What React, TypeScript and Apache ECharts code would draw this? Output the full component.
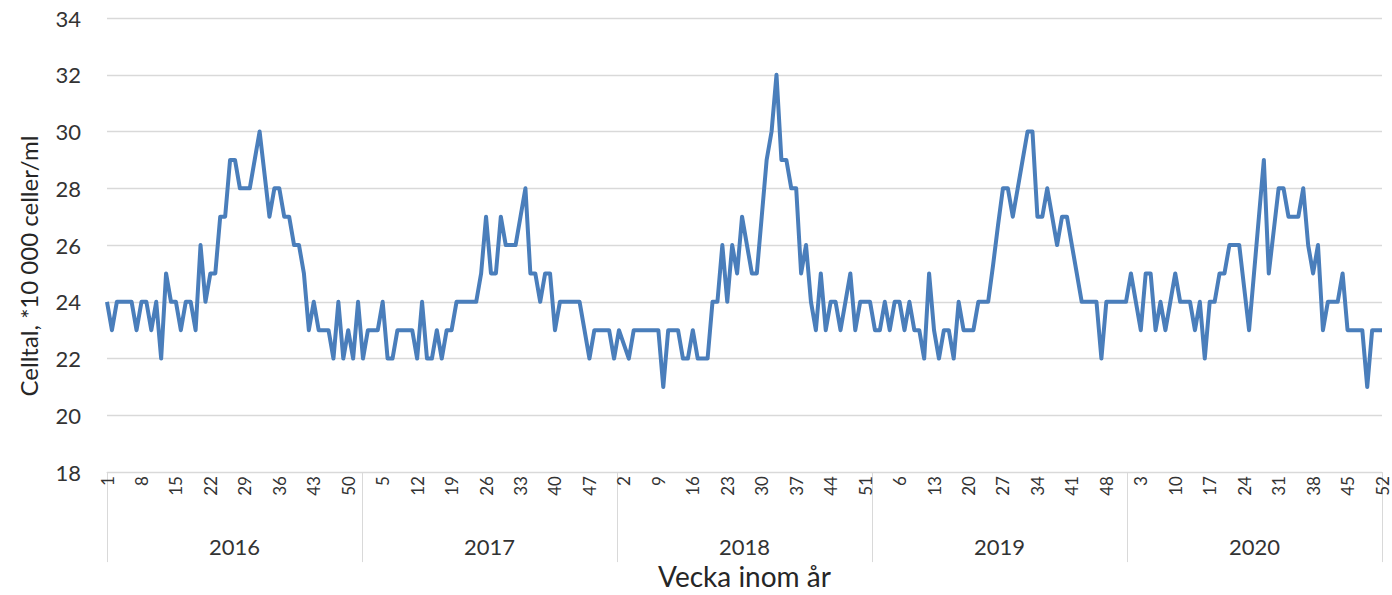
import React, { useEffect, useRef } from "react";
import * as echarts from "echarts";

const years = ["2016", "2017", "2018", "2019", "2020"];
const weeks = Array.from({ length: 52 }, (_, i) => String(i + 1));

const cells2016 = [24, 23, 24, 24, 24, 24, 23, 24, 24, 23, 24, 22, 25, 24, 24, 23, 24, 24, 23, 26, 24, 25, 25, 27, 27, 29, 29, 28, 28, 28, 29, 30, 28.5, 27, 28, 28, 27, 27, 26, 26, 25, 23, 24, 23, 23, 23, 22, 24, 22, 23, 22, 24];
const cells2017 = [22, 23, 23, 23, 24, 22, 22, 23, 23, 23, 23, 22, 24, 22, 22, 23, 22, 23, 23, 24, 24, 24, 24, 24, 25, 27, 25, 25, 27, 26, 26, 26, 27, 28, 25, 25, 24, 25, 25, 23, 24, 24, 24, 24, 24, 23, 22, 23, 23, 23, 23, 22];
const cells2018 = [23, 22.5, 22, 23, 23, 23, 23, 23, 23, 21, 23, 23, 23, 22, 22, 23, 22, 22, 22, 24, 24, 26, 24, 26, 25, 27, 26, 25, 25, 27, 29, 30, 32, 29, 29, 28, 28, 25, 26, 24, 23, 25, 23, 24, 24, 23, 24, 25, 23, 24, 24, 24];
const cells2019 = [23, 23, 24, 23, 24, 24, 23, 24, 23, 23, 22, 25, 23, 22, 23, 23, 22, 24, 23, 23, 23, 24, 24, 24, 25.3, 26.7, 28, 28, 27, 28, 29, 30, 30, 27, 27, 28, 27, 26, 27, 27, 26, 25, 24, 24, 24, 24, 22, 24, 24, 24, 24, 24];
const cells2020 = [25, 24, 23, 25, 25, 23, 24, 23, 24, 25, 24, 24, 24, 23, 24, 22, 24, 24, 25, 25, 26, 26, 26, 24.5, 23, 25, 27, 29, 25, 26.5, 28, 28, 27, 27, 27, 28, 26, 25, 26, 23, 24, 24, 24, 25, 23, 23, 23, 23, 21, 23, 23, 23];

const yTicks = { min: 18, max: 34, interval: 2 };
const yTitle = "Celltal, *10 000 celler/ml";
const xTitle = "Vecka inom år";

const FONT = "Lato, 'Open Sans', sans-serif";

export default function App() {
  const ref = useRef<HTMLDivElement>(null);

  useEffect(() => {
    if (!ref.current) return;
    const chart = echarts.init(ref.current, undefined, { renderer: "svg" });
    const allValues = [cells2016, cells2017, cells2018, cells2019, cells2020].flat();
    const categories: string[] = [];
    years.forEach((y) => weeks.forEach((w) => categories.push(y + "-" + w)));

    chart.setOption({
      animation: false,
      textStyle: { fontFamily: FONT },
      grid: { left: 107, right: 10, top: 18, bottom: 120, containLabel: false },
      xAxis: [
        {
          type: "category",
          data: categories,
          boundaryGap: false,
          position: "bottom",
          axisLine: { show: true, lineStyle: { color: "#d9d9d9", width: 1 } },
          axisTick: { show: false },
          axisLabel: {
            interval: 6,
            rotate: 90,
            margin: 4,
            fontSize: 17,
            lineHeight: 14,
            color: "#333333",
            fontFamily: FONT,
            formatter: (v: string) => v.split("-")[1],
          },
          splitLine: { show: false },
        },
        {
          type: "category",
          data: years,
          boundaryGap: true,
          position: "bottom",
          offset: 0,
          axisLine: { show: false },
          axisTick: { show: true, length: 90, interval: 0, lineStyle: { color: "#d9d9d9", width: 1 } },
          axisLabel: { margin: 63, fontSize: 22, color: "#333333", fontFamily: FONT, interval: 0 },
          splitLine: { show: false },
          name: xTitle,
          nameLocation: "middle",
          nameGap: 89,
          nameTextStyle: { fontSize: 28, color: "#262626", fontFamily: FONT },
        },
      ],
      yAxis: {
        type: "value",
        min: yTicks.min,
        max: yTicks.max,
        interval: yTicks.interval,
        axisLine: { show: false },
        axisTick: { show: false },
        axisLabel: { margin: 26, fontSize: 22, color: "#333333", fontFamily: FONT },
        splitLine: { show: true, lineStyle: { color: "#d9d9d9", width: 1.3 } },
      },
      graphic: [
        {
          type: "text",
          x: 28,
          y: 266,
          rotation: Math.PI / 2,
          style: {
            text: yTitle,
            fontSize: 24,
            fill: "#262626",
            fontFamily: FONT,
            align: "center",
            verticalAlign: "middle",
          },
        },
      ],
      series: [
        {
          type: "line",
          xAxisIndex: 0,
          data: allValues,
          showSymbol: false,
          symbol: "none",
          lineStyle: { color: "#4a7ebb", width: 4, join: "round" },
          itemStyle: { color: "#4a7ebb" },
        },
      ],
    });
    return () => chart.dispose();
  }, []);

  return (
    <div
      ref={ref}
      style={{ position: "absolute", left: 0, top: 0, width: 1392, height: 595, background: "#fff" }}
    />
  );
}
